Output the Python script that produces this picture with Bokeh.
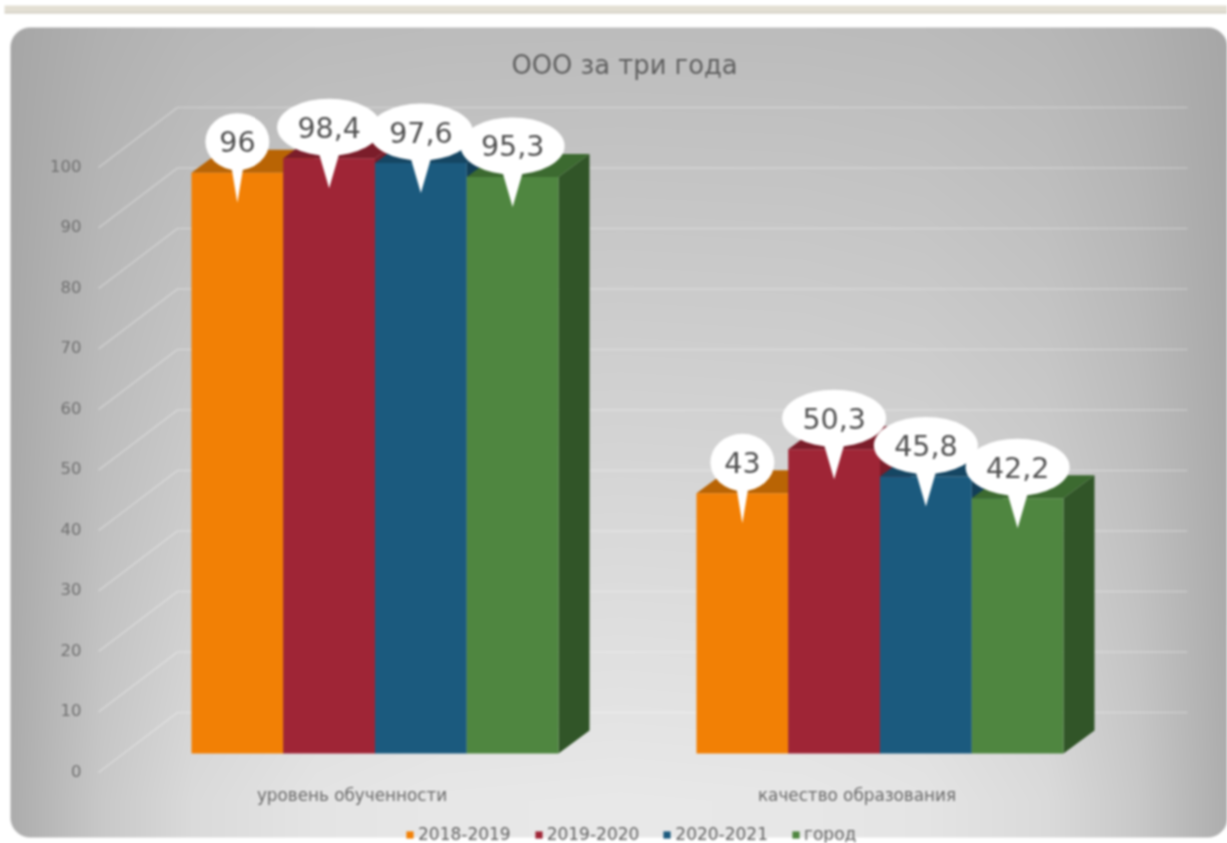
import numpy as np
from bokeh.embed import file_html
from bokeh.resources import INLINE
from bokeh.plotting import figure
from bokeh.models import (Range1d, LinearAxis, FixedTicker, Legend, LegendItem, Label)
from bokeh.core.properties import value

# ---------- data ----------
title_text = "ООО за три года"
categories = ["уровень обученности", "качество образования"]
series_names = ["2018-2019", "2019-2020", "2020-2021", "город"]
v_2018 = [96.0, 43.0]
v_2019 = [98.4, 50.3]
v_2020 = [97.6, 45.8]
v_city = [95.3, 42.2]
labels_2018 = ["96", "43"]
labels_2019 = ["98,4", "50,3"]
labels_2020 = ["97,6", "45,8"]
labels_city = ["95,3", "42,2"]
y_ticks = [0, 10, 20, 30, 40, 50, 60, 70, 80, 90, 100]

# ---------- layout constants (page pixels) ----------
W, H = 1227, 843
PX_CAT = 505.0      # pixels per category
PX_VAL = 6.05       # pixels per value unit
X0 = 374.5          # pixel of first category centre
Y0 = 753.0          # pixel of value 0 on the front plane
BAR_W = 91.75 / PX_CAT
DX, DY = 31.0 / PX_CAT, 23.0 / PX_VAL   # depth of the 3D columns
def xp(px): return (px - X0) / PX_CAT
def yp(px): return (Y0 - px) / PX_VAL

p = figure(width=W, height=H, output_backend="svg", toolbar_location=None,
           x_range=Range1d(xp(0), xp(W)), y_range=Range1d(yp(H), yp(0)),
           x_axis_location=None, y_axis_location=None, min_border=0,
           outline_line_color=None, background_fill_color="white",
           border_fill_color="white", margin=(0, 0, 0, 0),
           styles={"filter": "blur(0.9px)"})
p.grid.visible = False

# top stripe
p.quad(left=[xp(4)], right=[xp(W)], bottom=[yp(11)], top=[yp(5)], fill_color="#e3dfd3", line_color=None)
p.quad(left=[xp(4)], right=[xp(W)], bottom=[yp(13)], top=[yp(11)], fill_color="#d2cdc0", line_color=None)

# panel background: grey wash, lightest at the bottom centre, with rounded corners
PL, PR, PT, PB = 10, 1227, 27, 837
yy, xx = np.mgrid[PB - 0.5:PT:-1.0, PL + 0.5:PR:1.0]
u = np.abs(xx - 620) / 610.0
t = np.clip((800 - yy) / 770.0, 0, 1)
h = np.interp(u, [0, .3, .5, .7, .85, 1.0], [0, 1, 4, 14, 32, 60]) * (1 - 0.63 * t)
g = 232 - 44 * t - h
R = 20.0
cx = np.clip(xx, PL + R, PR - R)
cy = np.clip(yy, PT + R, PB - R)
a = np.clip(R + 0.5 - np.hypot(xx - cx, yy - cy), 0, 1) * 255
gi = np.round(g).astype(np.uint32)
img = (a.astype(np.uint32) << 24) | (gi << 16) | (gi << 8) | gi
p.image_rgba(image=[img.astype(np.uint32)], x=[xp(PL)], y=[yp(PB)], dw=[(PR - PL) / PX_CAT], dh=[(PB - PT) / PX_VAL])

# wall and back-wall gridlines
front_x, back_x, end_x = xp(98), xp(177), xp(1187)
back_off, front_off = (Y0 - 712) / PX_VAL, (Y0 - 772) / PX_VAL
p.multi_line(xs=[[front_x, back_x, end_x] for _ in y_ticks],
             ys=[[v + front_off, v + back_off, v + back_off] for v in y_ticks],
             line_color="white", line_alpha=0.28, line_width=1.6)

# 3D bars
all_vals = [v_2018, v_2019, v_2020, v_city]
all_labs = [labels_2018, labels_2019, labels_2020, labels_city]
front_cols = ["#f28005", "#9f2536", "#1b5a7e", "#4f8640"]
top_cols = ["#b96404", "#7b1d2a", "#154663", "#3c6a30"]
side_cols = ["#a85a03", "#7b1d2a", "#123e58", "#315528"]

offs = [(-1.5 + i) * BAR_W for i in range(4)]
for cat in range(len(categories)):
    for i, vals in enumerate(all_vals):
        v = vals[cat]
        c = cat + offs[i]
        l, rr = c - BAR_W / 2, c + BAR_W / 2
        p.patch([rr, rr + DX, rr + DX, rr], [0, DY, v + DY, v], fill_color=side_cols[i], line_color=None)
        p.patch([l, l + DX, rr + DX, rr], [v, v + DY, v + DY, v], fill_color=top_cols[i], line_color=None)

bars = []
for i, vals in enumerate(all_vals):
    xs = [k + offs[i] for k in range(len(categories))]
    bars.append(p.vbar(x=xs, top=vals, bottom=0, width=BAR_W, fill_color=front_cols[i], line_color=None))

# callouts
C_OFF, T_OFF, TAIL_TOP = 31.0 / PX_VAL, 30.0 / PX_VAL, 6.0 / PX_VAL
for i, (vals, labs) in enumerate(zip(all_vals, all_labs)):
    xs = [k + offs[i] for k in range(len(categories))]
    wide = [len(s) > 2 for s in labs]
    p.ellipse(x=xs, y=[v + C_OFF for v in vals], width=[104 if w else 64 for w in wide],
              height=[57 for _ in wide], width_units="screen", height_units="screen",
              fill_color="white", line_color=None)
    hw = [(10.5 if w else 6.0) / PX_CAT for w in wide]
    p.patches(xs=[[x - hh, x + hh, x] for x, hh in zip(xs, hw)],
              ys=[[v + TAIL_TOP, v + TAIL_TOP, v - T_OFF] for v in vals],
              fill_color="white", line_color=None)
    p.text(x=xs, y=[v + C_OFF for v in vals], text=labs, text_align="center", text_baseline="middle",
           text_font=value("DejaVu Sans"), text_font_size="28.5px", text_color="#505050")

# axes drawn through their own ranges (the 3D front plane sits offset from the columns)
p.extra_y_ranges["wall"] = Range1d((770 - H) / PX_VAL, 770 / PX_VAL)
yax = LinearAxis(y_range_name="wall", ticker=FixedTicker(ticks=y_ticks), fixed_location=xp(95))
yax.axis_line_color = None
yax.major_tick_line_color = None
yax.minor_tick_line_color = None
yax.major_label_standoff = 8
yax.major_label_text_font = "DejaVu Sans"
yax.major_label_text_font_size = "16.5px"
yax.major_label_text_color = "#707070"
p.add_layout(yax, "left")

p.extra_x_ranges["cats"] = Range1d((0 - 351.5) / PX_CAT, (W - 351.5) / PX_CAT)
xax = LinearAxis(x_range_name="cats", ticker=FixedTicker(ticks=list(range(len(categories)))),
                 major_label_overrides={i: c for i, c in enumerate(categories)},
                 fixed_location=yp(773))
xax.axis_line_color = None
xax.major_tick_line_color = None
xax.minor_tick_line_color = None
xax.major_label_standoff = 5
xax.major_label_text_font = "DejaVu Sans"
xax.major_label_text_font_size = "16.8px"
xax.major_label_text_color = "#6a6a6a"
p.add_layout(xax, "below")

p.add_layout(Label(x=xp(624), y=yp(64), text=title_text, text_align="center", text_baseline="middle",
                   text_font="DejaVu Sans", text_font_size="25.8px", text_color="#606060"))

legend = Legend(items=[LegendItem(label=n, renderers=[b]) for n, b in zip(series_names, bars)],
                orientation="horizontal", location=(405, -1), background_fill_alpha=0, border_line_color=None,
                glyph_width=9, glyph_height=9, label_standoff=4, spacing=23, padding=0, margin=0,
                label_text_font="DejaVu Sans", label_text_font_size="17px", label_text_color="#666666",
                label_height=16)
p.add_layout(legend, "center")

open("out.html", "w").write(file_html(p, INLINE))
